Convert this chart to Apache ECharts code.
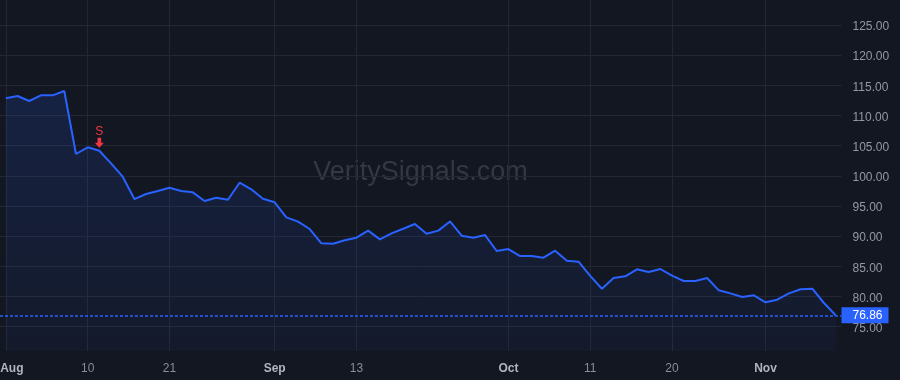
<!DOCTYPE html>
<html>
<head>
<meta charset="utf-8">
<script src="https://cdn.jsdelivr.net/npm/echarts@6/dist/echarts.min.js"></script>
<style>
html,body{margin:0;padding:0;background:#131722;}
#chart{width:900px;height:380px;}
</style>
</head>
<body>
<div id="chart"></div>
<script>
const dates = [
  '2023-08-01','2023-08-02','2023-08-03','2023-08-04','2023-08-07','2023-08-08','2023-08-09','2023-08-10','2023-08-11',
  '2023-08-14','2023-08-15','2023-08-16','2023-08-17','2023-08-18','2023-08-21','2023-08-22','2023-08-23','2023-08-24','2023-08-25',
  '2023-08-28','2023-08-29','2023-08-30','2023-08-31','2023-09-01','2023-09-05','2023-09-06','2023-09-07','2023-09-08',
  '2023-09-11','2023-09-12','2023-09-13','2023-09-14','2023-09-15','2023-09-18','2023-09-19','2023-09-20','2023-09-21','2023-09-22',
  '2023-09-25','2023-09-26','2023-09-27','2023-09-28','2023-09-29','2023-10-02','2023-10-03','2023-10-04','2023-10-05','2023-10-06',
  '2023-10-09','2023-10-10','2023-10-11','2023-10-12','2023-10-13','2023-10-16','2023-10-17','2023-10-18','2023-10-19','2023-10-20',
  '2023-10-23','2023-10-24','2023-10-25','2023-10-26','2023-10-27','2023-10-30','2023-10-31','2023-11-01','2023-11-02','2023-11-03',
  '2023-11-06','2023-11-07','2023-11-08','2023-11-09'
];
const prices = [
  112.84,113.23,112.40,113.34,113.34,114.05,103.61,104.72,104.15,102.06,
  99.85,96.14,96.97,97.47,98.02,97.47,97.25,95.81,96.36,96.03,
  98.85,97.75,96.20,95.60,93.10,92.40,91.17,88.80,88.73,89.30,
  89.73,90.90,89.46,90.45,91.22,92.00,90.40,90.90,92.43,90.06,
  89.73,90.17,87.52,87.85,86.69,86.69,86.41,87.57,85.91,85.75,
  83.40,81.27,83.04,83.32,84.49,84.04,84.54,83.43,82.55,82.55,
  83.04,81.00,80.50,79.90,80.17,79.01,79.45,80.50,81.17,81.27,
  78.90,76.86
];
const tickDates  = ['2023-08-01','2023-08-10','2023-08-21','2023-09-01','2023-09-13','2023-10-02','2023-10-11','2023-10-20','2023-11-01'];
const tickLabels = ['Aug','10','21','Sep','13','Oct','11','20','Nov'];
const monthTicks = ['Aug','Sep','Oct','Nov'];
const yTicks = [75,80,85,90,95,100,105,110,115,120,125];
const signalDate = '2023-08-11';
const signalText = 'S';
const watermark = 'VeritySignals.com';

const tickIdx = tickDates.map(d => dates.indexOf(d));
const labelByIdx = {};
tickIdx.forEach((i, k) => { labelByIdx[i] = tickLabels[k]; });
const seriesData = prices.map((v, i) => [i, v]);
const sigIdx = dates.indexOf(signalDate);
const lastPrice = prices[prices.length - 1];

const gridColor = '#232733';
const font = '"Liberation Sans", Arial, sans-serif';

const chart = echarts.init(document.getElementById('chart'), null, {renderer: 'canvas'});
chart.setOption({
  backgroundColor: '#131722',
  animation: false,
  textStyle: {fontFamily: font},
  grid: {left: 0, right: 58.5, top: 0, bottom: 29, containLabel: false, outerBoundsMode: 'none'},
  graphic: [{
    type: 'text', z: -1,
    x: 420.5, y: 172.5,
    style: {text: watermark, fontSize: 27, fontFamily: font, fill: '#343844', align: 'center', verticalAlign: 'middle'}
  }],
  xAxis: {
    type: 'value', min: -0.5, max: dates.length - 0.5,
    axisLine: {show: false},
    axisTick: {show: false, customValues: tickIdx},
    splitLine: {show: true, lineStyle: {color: gridColor, width: 1}},
    axisLabel: {
      customValues: tickIdx, margin: 12, fontSize: 12, color: '#8a8d96',
      formatter: function (v) {
        const t = labelByIdx[Math.round(v)] || '';
        if (monthTicks.indexOf(t) >= 0) {
          return Math.round(v) === 0 ? '{m0|' + t + '}' : '{m|' + t + '}';
        }
        return '{d|' + t + '}';
      },
      rich: {
        m: {fontWeight: 'bold', color: '#b2b5be', fontSize: 12, fontFamily: font},
        m0: {fontWeight: 'bold', color: '#b2b5be', fontSize: 12, fontFamily: font, padding: [0, 0, 0, 12]},
        d: {color: '#8a8d96', fontSize: 12, fontFamily: font}
      }
    }
  },
  yAxis: {
    type: 'value', position: 'right', min: 70.94, max: 129.15,
    axisLine: {show: false},
    axisTick: {show: false, customValues: yTicks},
    splitLine: {show: true, lineStyle: {color: gridColor, width: 1}},
    axisLabel: {
      customValues: yTicks, margin: 11, fontSize: 12, color: '#9598a1', fontFamily: font,
      formatter: v => '{v|' + Number(v).toFixed(2) + '}',
      rich: {v: {fontSize: 12, color: '#9598a1', fontFamily: font, padding: [4, 0, 0, 0]}}
    }
  },
  series: [{
    type: 'line',
    data: seriesData,
    symbol: 'none',
    lineStyle: {color: '#2962ff', width: 2},
    itemStyle: {color: '#2962ff'},
    areaStyle: {
      origin: 'start',
      color: new echarts.graphic.LinearGradient(0, 0, 0, 1, [
        {offset: 0, color: 'rgba(41,98,255,0.21)'},
        {offset: 1, color: 'rgba(41,98,255,0.06)'}
      ])
    },
    markLine: {
      silent: true, symbol: 'none', animation: false,
      lineStyle: {color: '#2962ff', width: 1.5, type: [3, 2], opacity: 1},
      emphasis: {disabled: true},
      label: {
        show: true, position: 'end', distance: 0,
        formatter: lastPrice.toFixed(2),
        backgroundColor: '#2962ff', color: '#ffffff', fontSize: 12, fontFamily: font,
        lineHeight: 12, padding: [3, 6, 1, 11]
      },
      data: [{yAxis: lastPrice, lineStyle: {color: '#2962ff', width: 1.5, type: [3, 2], opacity: 1}}]
    },
    markPoint: {
      silent: true, animation: false,
      symbol: 'path://M3,0 L7,0 L7,5 L10,5 L5,10 L0,5 L3,5 Z',
      symbolSize: [9, 10], symbolOffset: [0, -8],
      itemStyle: {color: '#f23645'},
      label: {show: true, position: 'top', distance: 0, formatter: signalText, color: '#f23645', fontSize: 12, fontFamily: font},
      data: [{coord: [sigIdx, prices[sigIdx]]}]
    }
  }]
});
</script>
</body>
</html>
